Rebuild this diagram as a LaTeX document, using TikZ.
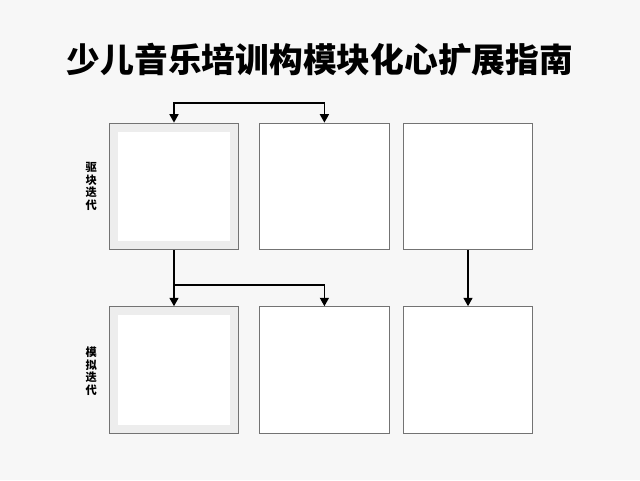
\documentclass[tikz,border=0pt]{standalone}
\usepackage{fontspec}
\setmainfont{Noto Sans CJK SC}
\usetikzlibrary{calc}
\usetikzlibrary{arrows.meta}
\tikzset{
  box/.style={shape=rectangle,draw=black!55,line width=0.6pt,fill=white,
    minimum width=3.23cm,minimum height=3.17cm,inner sep=0pt},
  shadedbox/.style={box,fill=black!7,
    path picture={\fill[white] ($(path picture bounding box.south west)+(0.22cm,0.22cm)$)
      rectangle ($(path picture bounding box.north east)+(-0.22cm,-0.22cm)$);}},
  conn/.style={line width=0.9pt,-{Triangle[width=6.5pt,length=6pt]}},
  sidelabel/.style={font=\bfseries\fontsize{8}{8.8}\selectfont,align=center,inner sep=0pt}
}
\newcommand{\modbox}[4]{\node[#4] (#1) at ( #2 , #3 ) {};}

\begin{document}
\begin{tikzpicture}
        \useasboundingbox[fill=black!3] (0,0) rectangle (16,-12);
        %title
        \node[font=\bfseries\fontsize{24}{28}\selectfont] (title) at (8,-1.5) {少儿音乐培训构模块化心扩展指南};
        %boxes
        \modbox{m1}{4.35}{-4.66}{shadedbox}
        \modbox{m2}{8.11}{-4.66}{box}
        \modbox{m3}{11.7}{-4.66}{box}
        \modbox{m4}{4.35}{-9.25}{shadedbox}
        \modbox{m5}{8.11}{-9.25}{box}
        \modbox{m6}{11.7}{-9.25}{box}
        %labels
        \node[sidelabel] (lab1) at (2.28,-4.66) {驱\\块\\迭\\代};
        \node[sidelabel] (lab2) at (2.28,-9.28) {模\\拟\\迭\\代};
        %edges
        \coordinate (topl) at (4.35,-2.575);
        \coordinate (topr) at (8.11,-2.575);
        \coordinate (split) at (4.35,-7.125);
        \draw[line width=0.9pt,{Triangle[width=6.5pt,length=6pt]}-{Triangle[width=6.5pt,length=6pt]}] (m1.north) -- (topl) -- (topr) -- (m2.north);
        \draw[conn] (m1.south) -- (m4.north);
        \draw[conn] (split) -| (m5.north);
        \draw[conn] (m3.south) -- (m6.north);
\end{tikzpicture}
\end{document}
